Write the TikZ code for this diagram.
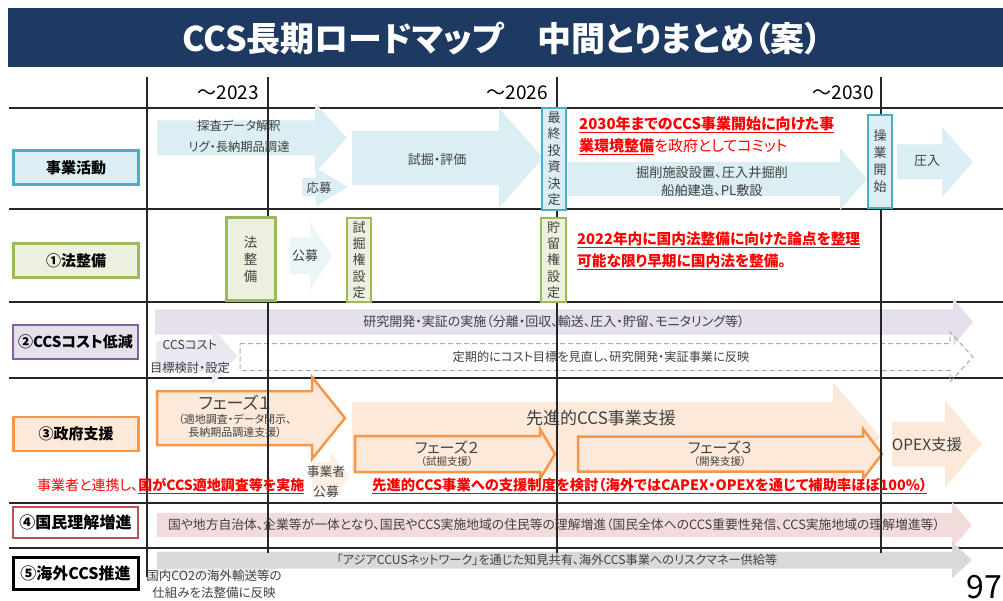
\documentclass[tikz,border=0pt]{standalone}
\usepackage{fontspec}
\setmainfont{Noto Sans CJK JP}[RawFeature=+palt]
\usetikzlibrary{positioning}

\definecolor{navy}{HTML}{1E3A62}
\definecolor{tealc}{HTML}{4BACC6}
\definecolor{tealf}{HTML}{DAEEF3}
\definecolor{greenc}{HTML}{9BBB59}
\definecolor{greenf}{HTML}{EBF1DE}
\definecolor{purpc}{HTML}{8064A2}
\definecolor{purpf}{HTML}{E5E0EC}
\definecolor{purpd}{HTML}{B3A2C7}
\definecolor{orgc}{HTML}{F79646}
\definecolor{orgf}{HTML}{FDE9D9}
\definecolor{redc}{HTML}{C0504D}
\definecolor{pinkf}{HTML}{F2DCDB}
\definecolor{greyf}{HTML}{D9D9D9}
\definecolor{txt}{HTML}{404040}
\definecolor{gridc}{HTML}{262626}

\newcommand{\fsz}[2]{\fontsize{#1}{#2}\selectfont}
% block arrow: style, x start, head base, tip, y centre, half body, half head
\newcommand{\blockarrow}[7]{%
  \path[#1] (#2,#5-#6) -- (#3,#5-#6) -- (#3,#5-#7) -- (#4,#5)
    -- (#3,#5+#7) -- (#3,#5+#6) -- (#2,#5+#6) -- cycle;}

\begin{document}
\begin{tikzpicture}[x=1pt, y=-1pt,
    rowlabel/.style={draw, line width=2.5pt, minimum width=125pt, minimum height=34pt,
      inner sep=0pt, font=\bfseries\fsz{15}{18}},
    vbox/.style={draw, line width=2.5pt, inner sep=0pt, align=center, text=txt},
    atext/.style={text=txt, align=center, inner sep=0pt, font=\fsz{12.3}{21}},
    redtext/.style={text=red, align=left, inner sep=0pt, anchor=west,
      font=\bfseries\fsz{14.7}{22}},
    gridline/.style={line width=1.5pt, draw=gridc},
    year/.style={anchor=east, inner sep=0pt, font=\fsz{19}{21}}
  ]
  \useasboundingbox (0,0) rectangle (1003,601);

  % title
  \fill[navy] (8,8) rectangle (1003,67);
  \node[text=white, font=\bfseries\fsz{34}{38}] (title) at (502,39)
    {CCS長期ロードマップ　中間とりまとめ（案）};

  % years
  \node[year] (y23) at (259,93) {～2023};
  \node[year] (y26) at (548,93) {～2026};
  \node[year] (y30) at (874,93) {～2030};

  % rows
  \foreach \y in {108,209,302,378,503,548}
    \draw[gridline] (9,\y) -- (1003,\y);

  % 事業活動
  \blockarrow{fill=tealf}{157}{315}{347}{138}{17.5}{35}
  \blockarrow{fill=tealf}{302}{316}{348}{187}{9}{19}
  \blockarrow{fill=tealf}{352}{499}{543}{158}{27}{50}
  \blockarrow{fill=tealf}{568}{840}{867}{179}{17}{31}
  \blockarrow{fill=tealf}{897}{942}{973}{162}{17.5}{35}
  % 法整備
  \blockarrow{fill=tealf!55}{290}{310}{332}{256}{18.5}{35}
  % コスト
  \blockarrow{fill=purpf}{155}{953}{973}{322}{12.5}{24}
  \blockarrow{fill=purpf!75}{156}{212}{237}{356}{15}{29}
  \blockarrow{draw=purpd, line width=1pt, dash pattern=on 5pt off 3pt}{240}{950}{973}{357}{13.5}{25}
  % 政府支援
  \blockarrow{fill=orgf}{352}{833}{880}{437}{35}{55}
  \blockarrow{fill=orgf!70}{312}{330}{350}{477}{15}{25}
  \blockarrow{fill=orgf, draw=orgc, line width=2.5pt}{157}{312}{345}{418}{27}{41}
  \blockarrow{fill=orgf, draw=orgc, line width=2.5pt}{355}{540}{555}{454}{18}{25}
  \blockarrow{fill=orgf, draw=orgc, line width=2.5pt}{578}{863}{882}{454}{17.5}{25}
  \blockarrow{fill=orgf}{892}{945}{982}{444}{22.5}{44}
  % 国民理解・海外
  \blockarrow{fill=pinkf}{157}{952}{972}{525}{12}{23}
  \blockarrow{fill=greyf!50}{157}{260}{280}{567}{9}{12}
  \blockarrow{fill=greyf}{157}{952}{972}{560}{8.5}{18}

  % columns
  \draw[gridline] (147,77) -- (147,577);
  \foreach \x in {268,557,881}
    \draw[gridline] (\x,77) -- (\x,553);

  % row labels
  \node[rowlabel, draw=tealc, fill=tealf] (act) at (76,167.5) {事業活動};
  \node[rowlabel, draw=greenc, fill=greenf] (law) at (76,260.5) {①法整備};
  \node[rowlabel, draw=purpc, fill=purpf] (cost) at (75.5,342) {②CCSコスト低減};
  \node[rowlabel, draw=orgc, fill=orgf] (gov) at (76,434) {③政府支援};
  \node[rowlabel, draw=redc, fill=white, minimum height=31pt, font=\bfseries\fsz{16}{18}]
    (pub) at (75.5,522.5) {④国民理解増進};
  \node[rowlabel, draw=black, fill=white, line width=3pt, minimum height=32pt,
    font=\bfseries\fsz{16}{18}] (ovs) at (75.5,573.5) {⑤海外CCS推進};

  % vertical boxes
  \node[vbox, draw=tealc, fill=tealf, minimum width=24pt, minimum height=102pt,
    font=\fsz{13}{16.5}] (fid) at (554,159) {最\\終\\投\\資\\決\\定};
  \node[vbox, draw=tealc, fill=tealf, minimum width=24pt, minimum height=93pt,
    font=\fsz{13}{17}] (ops) at (880,161.5) {操\\業\\開\\始};
  \node[vbox, draw=greenc, fill=greenf, line width=3pt, minimum width=49pt,
    minimum height=83pt, font=\fsz{13.5}{17}] (legis) at (250.5,259.5) {法\\整\\備};
  \node[vbox, draw=greenc, fill=greenf, minimum width=24pt, minimum height=84pt,
    font=\fsz{13}{16.3}] (trial) at (359,260) {試\\掘\\権\\設\\定};
  \node[vbox, draw=greenc, fill=greenf, minimum width=25pt, minimum height=84pt,
    font=\fsz{13}{16.3}] (store) at (553.5,260) {貯\\留\\権\\設\\定};

  % 事業活動 texts
  \node[atext] (expl) at (239,136) {探査データ解釈\\リグ・長納期品調達};
  \node[atext] (apply) at (319,188) {応募};
  \node[atext, font=\fsz{13}{21}] (drill) at (437,160) {試掘・評価};
  \node[atext, font=\fsz{13.2}{18}] (build) at (712,181)
    {掘削施設設置、圧入井掘削\\船舶建造、PL敷設};
  \node[atext, font=\fsz{13}{21}] (inject) at (927,161) {圧入};
  \node[redtext, font=\bfseries\fsz{15}{22}] (commit) at (579,136)
    {\underline{2030年までのCCS事業開始に向けた事}\\
     \underline{業環境整備}\mdseries を政府としてコミット};

  % 法整備 texts
  \node[atext, font=\fsz{13}{21}] (bid) at (305,256) {公募};
  \node[redtext] (law22) at (577,251)
    {\underline{2022年内に国内法整備に向けた論点を整理}\\
     \underline{可能な限り早期に国内法を整備}。};

  % コスト texts
  \node[atext, font=\fsz{13}{21}] (rnd) at (554,322)
    {研究開発・実証の実施（分離・回収、輸送、圧入・貯留、モニタリング等）};
  \node[atext, font=\fsz{12.3}{23}] (target) at (190,357) {CCSコスト\\目標検討・設定};
  \node[atext, font=\fsz{12.2}{21}] (review) at (601,357)
    {定期的にコスト目標を見直し、研究開発・実証事業に反映};

  % 政府支援 texts
  \node[atext, font=\fsz{17}{20}] (ph1) at (235,403) {フェーズ１};
  \node[atext, font=\fsz{11}{13}, below=3pt of ph1] (ph1s)
    {（適地調査・データ開示、\\長納期品調達支援）};
  \node[atext, font=\fsz{17}{20}] (adv) at (601,418) {先進的CCS事業支援};
  \node[atext, font=\fsz{15}{18}] (ph2) at (447,447) {フェーズ２};
  \node[atext, font=\fsz{10.5}{12}, below=2pt of ph2] (ph2s) {（試掘支援）};
  \node[atext, font=\fsz{15}{18}] (ph3) at (720,447) {フェーズ３};
  \node[atext, font=\fsz{10.5}{12}, below=2pt of ph3] (ph3s) {（開発支援）};
  \node[atext, font=\fsz{15.5}{18}] (opex) at (927,445) {OPEX支援};
  \node[atext, font=\fsz{12.8}{20}] (bidg) at (326,482) {事業者\\公募};
  \node[redtext, font=\fsz{14}{16}] (survey) at (37,486)
    {事業者と連携し、\bfseries\underline{国がCCS適地調査等を実施}};
  \node[redtext, font=\bfseries\fsz{14.3}{16}] (scheme) at (372,486)
    {\underline{先進的CCS事業への支援制度を検討（海外ではCAPEX・OPEXを通じて補助率ほぼ100\%）}};

  % 国民理解・海外 texts
  \node[atext, font=\fsz{12.8}{16}] (pubtx) at (554,525)
    {国や地方自治体、企業等が一体となり、国民やCCS実施地域の住民等の理解増進（国民全体へのCCS重要性発信、CCS実施地域の理解増進等）};
  \node[atext, font=\fsz{12.2}{16}] (asia) at (557,560)
    {「アジアCCUSネットワーク」を通じた知見共有、海外CCS事業へのリスクマネー供給等};
  \node[atext, font=\fsz{12.5}{17}] (co2) at (214,584)
    {国内CO2の海外輸送等の\\仕組みを法整備に反映};

  \node[anchor=base east, inner sep=0pt, font=\fsz{32}{34}] (page) at (1002,598) {97};
\end{tikzpicture}
\end{document}
